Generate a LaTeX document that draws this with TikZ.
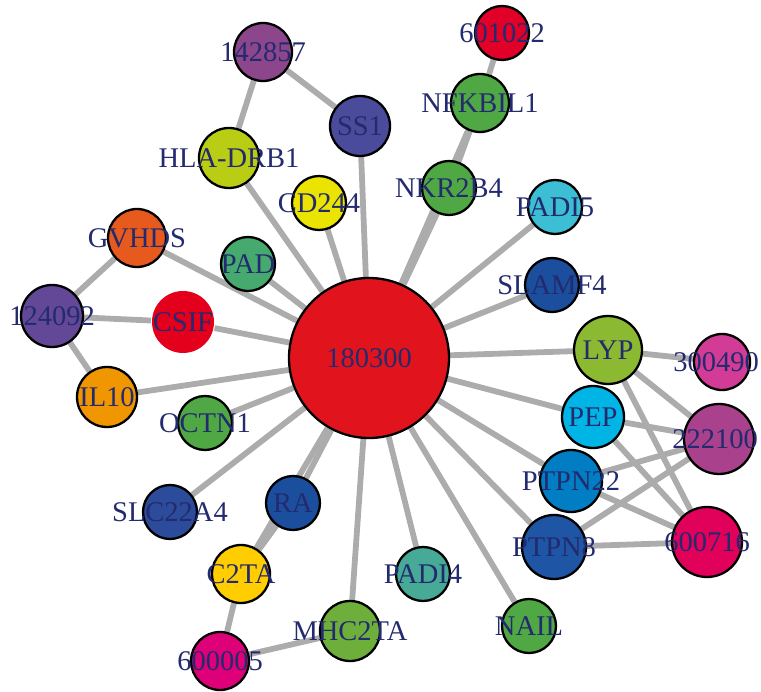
\documentclass[tikz,border=0pt]{standalone}
\usepackage{fontspec}
\setmainfont{Liberation Serif}
\usetikzlibrary{backgrounds}

\definecolor{labelblue}{RGB}{35,42,110}
\definecolor{edgegray}{RGB}{172,172,172}
\definecolor{cA}{RGB}{140,70,140}
\definecolor{cSS}{RGB}{75,75,155}
\definecolor{cHLA}{RGB}{185,205,20}
\definecolor{cCD}{RGB}{235,228,0}
\definecolor{cGV}{RGB}{230,90,30}
\definecolor{cPAD}{RGB}{70,170,110}
\definecolor{cP124}{RGB}{100,72,152}
\definecolor{cRed}{RGB}{225,20,30}
\definecolor{cCSIF}{RGB}{228,0,28}
\definecolor{cIL}{RGB}{240,150,0}
\definecolor{cGreen}{RGB}{80,168,68}
\definecolor{cSLC}{RGB}{45,75,155}
\definecolor{cBlue}{RGB}{28,78,158}
\definecolor{cGold}{RGB}{255,205,0}
\definecolor{cMag}{RGB}{222,0,120}
\definecolor{cMHC}{RGB}{110,175,60}
\definecolor{cTeal}{RGB}{70,170,150}
\definecolor{c601}{RGB}{225,0,40}
\definecolor{cCyan}{RGB}{60,190,212}
\definecolor{cLYP}{RGB}{140,185,50}
\definecolor{cPink}{RGB}{210,60,150}
\definecolor{cPEP}{RGB}{0,180,230}
\definecolor{c222}{RGB}{170,65,140}
\definecolor{cPT22}{RGB}{0,125,195}
\definecolor{cPT8}{RGB}{30,85,165}
\definecolor{c716}{RGB}{225,0,90}

\tikzset{
  gene/.style={circle,draw=black,line width=2.3pt,minimum size=#1,inner sep=0pt},
  gene/.default=56pt,
  every label/.style={text=labelblue,font=\fontsize{28.5}{28.5}\selectfont,inner sep=0pt},
  link/.style={draw=edgegray,line width=5.8pt}
}

\begin{document}
\begin{tikzpicture}[x=1pt,y=-1pt]
\useasboundingbox (0,0) rectangle (761,692);

\node[gene=160pt,fill=cRed,label=center:180300] (hub) at (369,358) {};

\node[gene=58pt,fill=cA,label=center:142857] (n142857) at (263,52) {};
\node[gene=60pt,fill=cSS,label=center:SS1] (ss1) at (360,126) {};
\node[gene=60pt,fill=cHLA,label=center:HLA-DRB1] (hla) at (229,158) {};
\node[gene=54pt,fill=cCD,label=center:CD244] (cd244) at (319,203) {};
\node[gene=58pt,fill=cGV,label=center:GVHDS] (gvhds) at (137,238) {};
\node[gene=54pt,fill=cPAD,label=center:PAD] (pad) at (248,264) {};
\node[gene=62pt,fill=cP124,label=center:124092] (n124092) at (52,316) {};
\node[gene=62pt,fill=cCSIF,draw=none,label=center:CSIF] (csif) at (183,322) {};
\node[gene=60pt,fill=cIL,label=center:IL10] (il10) at (107,397) {};
\node[gene=54pt,fill=cGreen,label=center:OCTN1] (octn1) at (205,423) {};
\node[gene=54pt,fill=cSLC,label=center:SLC22A4] (slc) at (170,512) {};
\node[gene=54pt,fill=cBlue,label=center:RA] (ra) at (293,503) {};
\node[gene=58pt,fill=cGold,label=center:C2TA] (c2ta) at (241,574) {};
\node[gene=58pt,fill=cMag,label=center:600005] (n600005) at (220,661) {};
\node[gene=60pt,fill=cMHC,label=center:MHC2TA] (mhc) at (350,631) {};
\node[gene=54pt,fill=cTeal,label=center:PADI4] (padi4) at (423,574) {};
\node[gene=54pt,fill=cGreen,label=center:NAIL] (nail) at (529,626) {};

\node[gene=54pt,fill=c601,label=center:601022] (n601022) at (502,33) {};
\node[gene=58pt,fill=cGreen,label=center:NFKBIL1] (nfkbil) at (480,103) {};
\node[gene=54pt,fill=cGreen,label=center:NKR2B4] (nkr) at (449,188) {};
\node[gene=54pt,fill=cCyan,label=center:PADI5] (padi5) at (555,207) {};
\node[gene=54pt,fill=cBlue,label=center:SLAMF4] (slamf4) at (552,285) {};

\node[gene=68pt,fill=cLYP,label=center:LYP] (lyp) at (608,350) {};
\node[gene=56pt,fill=cPink,label={[xshift=-6pt]center:300490}] (n300490) at (722,362) {};
\node[gene=62pt,fill=cPEP,label=center:PEP] (pep) at (593,417) {};
\node[gene=70pt,fill=c222,label={[xshift=-4pt]center:222100}] (n222100) at (719,439) {};
\node[gene=62pt,fill=cPT22,label=center:PTPN22] (ptpn22) at (571,481) {};
\node[gene=64pt,fill=cPT8,label=center:PTPN8] (ptpn8) at (554,547) {};
\node[gene=70pt,fill=c716,label=center:600716] (n600716) at (707,542) {};

\begin{pgfonlayer}{background}
\path[link] (n142857) -- (hla);
\path[link] (n142857) -- (ss1);
\path[link] (ss1) -- (hub);
\path[link] (hla) -- (hub);
\path[link] (cd244) -- (hub);
\path[link] (gvhds) -- (n124092);
\path[link] (gvhds) -- (hub);
\path[link] (pad) -- (hub);
\path[link] (n124092) -- (csif);
\path[link] (csif) -- (hub);
\path[link] (n124092) -- (il10);
\path[link] (il10) -- (hub);
\path[link] (octn1) -- (hub);
\path[link] (slc) -- (hub);
\path[link] (ra) -- (hub);
\path[link] (c2ta) -- (hub);
\path[link] (c2ta) -- (ra);
\path[link] (c2ta) -- (n600005);
\path[link] (n600005) -- (mhc);
\path[link] (mhc) -- (hub);
\path[link] (padi4) -- (hub);
\path[link] (nail) -- (hub);
\path[link] (n601022) -- (nfkbil);
\path[link] (nfkbil) -- (nkr);
\path[link] (nfkbil) -- (hub);
\path[link] (nkr) -- (hub);
\path[link] (padi5) -- (hub);
\path[link] (slamf4) -- (hub);
\path[link] (lyp) -- (hub);
\path[link] (pep) -- (hub);
\path[link] (ptpn22) -- (hub);
\path[link] (ptpn8) -- (hub);
\path[link] (lyp) -- (n300490);
\path[link] (lyp) -- (n222100);
\path[link] (lyp) -- (n600716);
\path[link] (pep) -- (n222100);
\path[link] (pep) -- (n600716);
\path[link] (ptpn22) -- (n222100);
\path[link] (ptpn22) -- (n600716);
\path[link] (ptpn8) -- (n222100);
\path[link] (ptpn8) -- (n600716);
\end{pgfonlayer}
\end{tikzpicture}
\end{document}
